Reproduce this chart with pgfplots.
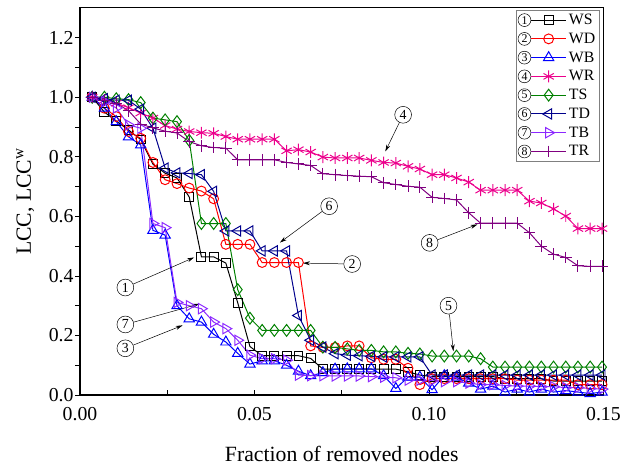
\documentclass[border=0pt]{standalone}
\usepackage{fontspec}
\setmainfont{Liberation Serif}
\usepackage{pgfplots}
\pgfplotsset{compat=1.18}
\usepackage{pgfplotstable}
\usetikzlibrary{arrows.meta}

\definecolor{navyd}{RGB}{0,0,140}
\definecolor{violetb}{RGB}{140,40,255}
\definecolor{purpr}{RGB}{128,0,128}
\definecolor{greent}{RGB}{0,128,0}

% x = fraction removed; one column per strategy
\pgfplotstableread{
x      ws    wd    wb    wr    ts    td    tb    tr
0.0035 1.000 1.000 1.000 1.000 1.000 1.000 1.000 1.000
0.0070 0.950 0.963 0.963 0.990 1.000 0.995 0.985 0.990
0.0104 0.920 0.935 0.918 0.980 0.995 0.990 0.964 0.980
0.0139 0.890 0.885 0.867 0.965 0.992 0.990 0.907 0.955
0.0174 0.858 0.862 0.840 0.947 0.982 0.960 0.896 0.910
0.0209 0.775 0.781 0.553 0.930 0.930 0.896 0.576 0.897
0.0244 0.745 0.723 0.537 0.905 0.924 0.762 0.562 0.886
0.0278 0.729 0.710 0.300 0.893 0.918 0.746 0.311 0.880
0.0313 0.665 0.695 0.256 0.885 0.855 0.744 0.300 0.851
0.0348 0.464 0.685 0.245 0.881 0.576 0.740 0.290 0.837
0.0383 0.464 0.659 0.204 0.879 0.576 0.684 0.245 0.831
0.0418 0.443 0.506 0.178 0.868 0.576 0.551 0.223 0.829
0.0452 0.310 0.506 0.140 0.859 0.354 0.551 0.184 0.790
0.0487 0.163 0.506 0.104 0.859 0.258 0.551 0.134 0.790
0.0522 0.132 0.445 0.115 0.859 0.217 0.484 0.122 0.790
0.0557 0.132 0.445 0.115 0.859 0.217 0.484 0.122 0.790
0.0592 0.132 0.445 0.100 0.820 0.217 0.484 0.117 0.781
0.0626 0.132 0.445 0.080 0.824 0.217 0.267 0.067 0.776
0.0661 0.123 0.165 0.065 0.816 0.217 0.184 0.065 0.771
0.0696 0.087 0.160 0.075 0.799 0.161 0.161 0.065 0.743
0.0731 0.087 0.160 0.087 0.796 0.160 0.139 0.064 0.740
0.0766 0.087 0.165 0.088 0.796 0.155 0.134 0.064 0.737
0.0800 0.087 0.165 0.088 0.796 0.150 0.132 0.064 0.735
0.0835 0.087 0.125 0.088 0.788 0.150 0.130 0.062 0.733
0.0870 0.087 0.120 0.065 0.781 0.145 0.128 0.060 0.713
0.0905 0.087 0.120 0.022 0.779 0.145 0.128 0.058 0.707
0.0940 0.078 0.090 0.060 0.768 0.140 0.128 0.050 0.701
0.0974 0.067 0.035 0.060 0.759 0.138 0.128 0.050 0.698
0.1009 0.062 0.055 0.018 0.740 0.131 0.067 0.048 0.664
0.1044 0.062 0.055 0.065 0.740 0.131 0.067 0.045 0.660
0.1079 0.062 0.055 0.060 0.729 0.131 0.067 0.045 0.655
0.1114 0.062 0.055 0.040 0.715 0.131 0.067 0.040 0.612
0.1148 0.062 0.055 0.020 0.688 0.122 0.067 0.035 0.577
0.1183 0.062 0.055 0.030 0.688 0.094 0.067 0.035 0.577
0.1218 0.055 0.055 0.010 0.688 0.094 0.067 0.032 0.577
0.1253 0.055 0.050 0.020 0.688 0.094 0.067 0.030 0.577
0.1288 0.055 0.050 0.010 0.651 0.094 0.067 0.030 0.545
0.1322 0.055 0.050 0.020 0.645 0.094 0.067 0.028 0.500
0.1357 0.047 0.050 0.010 0.625 0.094 0.067 0.028 0.473
0.1392 0.047 0.050 0.015 0.601 0.094 0.067 0.025 0.462
0.1427 0.047 0.035 0.010 0.559 0.094 0.067 0.025 0.434
0.1462 0.047 0.035 0.005 0.559 0.094 0.067 0.022 0.432
0.1496 0.047 0.035 0.010 0.559 0.094 0.067 0.020 0.432
}\lcc

\pgfplotsset{
  cn/.style={legend image code/.code={
    \draw[black,solid,line width=0.5pt] (6.5pt,0pt) circle[radius=6.5pt];
    \pgftext[at=\pgfpoint{6.5pt}{0pt}]{\fontsize{12}{12}\selectfont\color{black}#1};
    \draw[mark repeat=2,mark phase=2] plot coordinates {(13pt,0pt) (31pt,0pt) (49pt,0pt)};
  }},
}
\tikzset{ann/.style={draw,circle,inner sep=0pt,minimum size=17pt,line width=0.5pt,
  font=\fontsize{14}{14}\selectfont}}

\begin{document}
\begin{tikzpicture}
\begin{axis}[
  scale only axis, width=530pt, height=392pt,
  xmin=0, xmax=0.15, ymin=0, ymax=1.3,
  xtick={0,0.05,0.1,0.15}, minor x tick num=1,
  ytick={0,0.2,0.4,0.6,0.8,1.0,1.2}, minor y tick num=1,
  tick pos=left, tick align=inside,
  major tick length=5pt, minor tick length=5pt,
  y tick style={xshift=-5pt},
  every tick/.style={black,line width=0.8pt},
  scaled x ticks=false,
  xticklabel shift=9pt, yticklabel shift=3pt,
  xticklabel style={/pgf/number format/.cd,fixed,fixed zerofill,precision=2},
  yticklabel style={/pgf/number format/.cd,fixed,fixed zerofill,precision=1},
  /pgf/number format/assume math mode=true,
  tick label style={font=\fontsize{20}{20}\selectfont},
  label style={font=\fontsize{22}{22}\selectfont},
  xlabel={Fraction of removed nodes},
  ylabel={LCC, LCC\textsuperscript{w}},
  xlabel shift=19pt, ylabel shift=8pt,
  axis line style={line width=1.2pt},
  legend style={at={(1,1)},anchor=north east,xshift=-4pt,yshift=-2pt,draw=gray,
    line width=0.6pt,font=\fontsize{16}{16}\selectfont,row sep=3pt,inner sep=2pt},
  legend cell align=left,
  every axis plot/.append style={line width=1pt},
]
\addplot[black,mark=square,mark size=4.5pt,cn=1] table[y=ws] {\lcc};
\addlegendentry{WS}
\addplot[red,mark=o,mark size=5pt,cn=2] table[y=wd] {\lcc};
\addlegendentry{WD}
\addplot[blue,mark=triangle,mark size=6pt,cn=3] table[y=wb] {\lcc};
\addlegendentry{WB}
\addplot[magenta,mark=asterisk,mark size=6pt,cn=4] table[y=wr] {\lcc};
\addlegendentry{WR}
\addplot[greent,mark=diamond,mark size=6pt,cn=5] table[y=ts] {\lcc};
\addlegendentry{TS}
\addplot[navyd,mark=triangle,mark size=6pt,mark options={rotate=90},cn=6] table[y=td] {\lcc};
\addlegendentry{TD}
\addplot[violetb,mark=triangle,mark size=6pt,mark options={rotate=-90},cn=7] table[y=tb] {\lcc};
\addlegendentry{TB}
\addplot[purpr,mark=+,mark size=6pt,cn=8] table[y=tr] {\lcc};
\addlegendentry{TR}

\node[ann] (c1) at (axis cs:0.0130,0.361) {1};
\node[ann] (c7) at (axis cs:0.0130,0.237) {7};
\node[ann] (c3) at (axis cs:0.0130,0.157) {3};
\node[ann] (c6) at (axis cs:0.0714,0.634) {6};
\node[ann] (c2) at (axis cs:0.0780,0.440) {2};
\node[ann] (c4) at (axis cs:0.0926,0.941) {4};
\node[ann] (c8) at (axis cs:0.1002,0.511) {8};
\node[ann] (c5) at (axis cs:0.1056,0.300) {5};
\begin{scope}[-{Stealth[length=7pt,width=4pt]},line width=0.5pt]
\draw (c1) -- (axis cs:0.0327,0.462);
\draw (c7) -- (axis cs:0.0342,0.306);
\draw (c3) -- (axis cs:0.0294,0.234);
\draw (c6) -- (axis cs:0.0573,0.512);
\draw (c2) -- (axis cs:0.0639,0.443);
\draw (c4) -- (axis cs:0.0875,0.818);
\draw (c8) -- (axis cs:0.1139,0.573);
\draw (c5) -- (axis cs:0.1070,0.147);
\end{scope}
\end{axis}
\path (-81pt,-68pt) rectangle (543pt,400pt);
\end{tikzpicture}
\end{document}
